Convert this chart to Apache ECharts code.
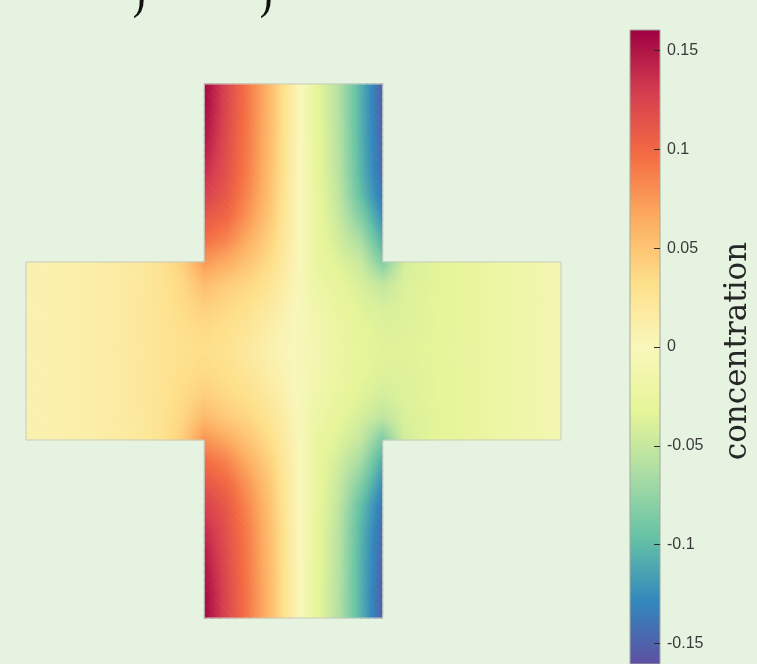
<!DOCTYPE html>
<html>
<head>
<meta charset="utf-8">
<script src="https://cdn.jsdelivr.net/npm/echarts@6/dist/echarts.min.js"></script>
<style>
  html, body { margin: 0; padding: 0; background: #e6f3e1; }
  #chart { width: 757px; height: 664px; }
</style>
</head>
<body>
<div id="chart"></div>
<script>
// Concentration field on a cross-shaped channel, sampled on a node grid with
// 1/8 of the channel width between nodes. Columns 0..24 run left to right,
// rows 0..24 top to bottom; the vertical arms cover columns 8..16.

// Upper arm, rows 0-7, columns 8-16
const armTop = [
  [0.158, 0.123, 0.090, 0.055, 0.012, -0.028, -0.058, -0.105, -0.152],
  [0.156, 0.122, 0.090, 0.055, 0.012, -0.028, -0.058, -0.105, -0.152],
  [0.152, 0.120, 0.089, 0.054, 0.012, -0.028, -0.057, -0.105, -0.150],
  [0.146, 0.118, 0.088, 0.053, 0.011, -0.027, -0.056, -0.104, -0.148],
  [0.137, 0.115, 0.086, 0.052, 0.011, -0.027, -0.055, -0.102, -0.145],
  [0.126, 0.110, 0.082, 0.050, 0.010, -0.026, -0.052, -0.097, -0.138],
  [0.112, 0.100, 0.075, 0.046, 0.010, -0.026, -0.048, -0.082, -0.125],
  [0.096, 0.085, 0.063, 0.040, 0.009, -0.025, -0.043, -0.064, -0.108]
];

// Horizontal channel, rows 8-16, columns 0-24
const band = [
  [0.008, 0.009, 0.011, 0.013, 0.016, 0.020, 0.028, 0.042, 0.075, 0.065, 0.050, 0.033, 0.008, -0.025, -0.036, -0.048, -0.085, -0.041, -0.035, -0.031, -0.027, -0.022, -0.017, -0.013, -0.010],
  [0.008, 0.009, 0.011, 0.013, 0.016, 0.020, 0.027, 0.037, 0.055, 0.045, 0.038, 0.025, 0.005, -0.020, -0.030, -0.040, -0.052, -0.038, -0.035, -0.031, -0.027, -0.022, -0.017, -0.013, -0.010],
  [0.008, 0.009, 0.011, 0.013, 0.016, 0.021, 0.027, 0.035, 0.042, 0.037, 0.030, 0.018, 0.003, -0.015, -0.026, -0.035, -0.041, -0.037, -0.034, -0.031, -0.027, -0.022, -0.017, -0.013, -0.010],
  [0.008, 0.009, 0.011, 0.013, 0.016, 0.021, 0.026, 0.032, 0.036, 0.032, 0.024, 0.012, 0.001, -0.012, -0.023, -0.032, -0.037, -0.036, -0.034, -0.031, -0.027, -0.022, -0.017, -0.013, -0.010],
  [0.008, 0.009, 0.011, 0.013, 0.016, 0.020, 0.025, 0.030, 0.033, 0.028, 0.019, 0.009, 0.000, -0.010, -0.022, -0.031, -0.035, -0.035, -0.033, -0.030, -0.026, -0.022, -0.017, -0.013, -0.010],
  [0.008, 0.009, 0.011, 0.013, 0.016, 0.021, 0.026, 0.032, 0.036, 0.032, 0.024, 0.012, 0.001, -0.012, -0.023, -0.032, -0.037, -0.036, -0.034, -0.031, -0.027, -0.022, -0.017, -0.013, -0.010],
  [0.008, 0.009, 0.011, 0.013, 0.016, 0.021, 0.027, 0.035, 0.043, 0.037, 0.030, 0.018, 0.003, -0.015, -0.026, -0.035, -0.042, -0.037, -0.034, -0.031, -0.027, -0.022, -0.017, -0.013, -0.010],
  [0.008, 0.009, 0.011, 0.013, 0.016, 0.020, 0.027, 0.038, 0.057, 0.046, 0.038, 0.025, 0.005, -0.020, -0.030, -0.041, -0.054, -0.039, -0.035, -0.031, -0.027, -0.022, -0.017, -0.013, -0.010],
  [0.008, 0.009, 0.011, 0.013, 0.016, 0.020, 0.028, 0.043, 0.078, 0.066, 0.050, 0.032, 0.008, -0.024, -0.036, -0.050, -0.087, -0.042, -0.035, -0.031, -0.027, -0.022, -0.017, -0.013, -0.010]
];

// Lower arm, rows 17-24, columns 8-16
const armBottom = [
  [0.098, 0.086, 0.063, 0.040, 0.009, -0.025, -0.043, -0.066, -0.110],
  [0.113, 0.100, 0.075, 0.046, 0.010, -0.026, -0.048, -0.083, -0.126],
  [0.127, 0.110, 0.082, 0.050, 0.010, -0.026, -0.052, -0.097, -0.139],
  [0.138, 0.115, 0.086, 0.052, 0.011, -0.027, -0.055, -0.102, -0.145],
  [0.146, 0.118, 0.088, 0.053, 0.011, -0.027, -0.056, -0.104, -0.148],
  [0.152, 0.120, 0.089, 0.054, 0.012, -0.028, -0.057, -0.105, -0.150],
  [0.156, 0.122, 0.090, 0.055, 0.012, -0.028, -0.058, -0.105, -0.152],
  [0.158, 0.123, 0.090, 0.055, 0.012, -0.028, -0.058, -0.105, -0.152]
];

// Domain outline in node units
const crossOutline = [[8, 0], [16, 0], [16, 8], [24, 8], [24, 16], [16, 16], [16, 24], [8, 24], [8, 16], [0, 16], [0, 8], [8, 8]];

// Colour scale
const colorRange = [-0.1605, 0.1605];
const colorTicks = [0.15, 0.1, 0.05, 0, -0.05, -0.1, -0.15];
const spectral = ['#9e0142', '#d53e4f', '#f46d43', '#fdae61', '#fee08b', '#f9f7bb',
                  '#e6f598', '#abdda4', '#66c2a5', '#3288bd', '#5e4fa2'];   // high -> low

const spectralRGB = spectral.map(h => [1, 3, 5].map(i => parseInt(h.substr(i, 2), 16)));

function cmap(v) {
  let t = (colorRange[1] - v) / (colorRange[1] - colorRange[0]);
  t = Math.max(0, Math.min(1, t)) * (spectralRGB.length - 1);
  const i = Math.min(Math.floor(t), spectralRGB.length - 2);
  const f = t - i;
  const a = spectralRGB[i], b = spectralRGB[i + 1];
  return 'rgb(' + [0, 1, 2].map(k => Math.round(a[k] + (b[k] - a[k]) * f)).join(',') + ')';
}

function nodeValue(r, c) {
  if (r < 8) return armTop[r][c - 8];
  if (r <= 16) return band[r - 8][c];
  return armBottom[r - 17][c - 8];
}

// Cells of the mesh that lie inside the cross
const cells = [];
for (let r = 0; r < 24; r++) {
  for (let c = 0; c < 24; c++) {
    if ((r >= 8 && r < 16) || (c >= 8 && c < 16)) cells.push([c, r]);
  }
}

// Linear-in-value shading of one triangle: a gradient running along the
// direction in which the value changes. The triangle is grown by a fraction
// of a pixel so neighbouring pieces overlap and leave no hairline gaps.
const GROW = 0.45;
function shadedTriangle(P, V) {
  const d1x = P[1][0] - P[0][0], d1y = P[1][1] - P[0][1];
  const d2x = P[2][0] - P[0][0], d2y = P[2][1] - P[0][1];
  const e1 = V[1] - V[0], e2 = V[2] - V[0];
  const det = d1x * d2y - d1y * d2x;
  const vmin = Math.min(V[0], V[1], V[2]);
  const vmax = Math.max(V[0], V[1], V[2]);
  let fill;
  if (vmax - vmin < 1e-6 || Math.abs(det) < 1e-9) {
    fill = cmap((vmin + vmax) / 2);
  } else {
    const ax = (e1 * d2y - e2 * d1y) / det;
    const ay = (d1x * e2 - d2x * e1) / det;
    const g2 = ax * ax + ay * ay;
    const m = V.indexOf(vmin);
    const x0 = P[m][0], y0 = P[m][1];
    const span = vmax - vmin;
    const n = span > 0.01 ? 4 : 2;
    const stops = [];
    for (let k = 0; k <= n; k++) {
      stops.push({ offset: k / n, color: cmap(vmin + span * k / n) });
    }
    fill = {
      type: 'linear', global: true,
      x: x0, y: y0, x2: x0 + ax * span / g2, y2: y0 + ay * span / g2,
      colorStops: stops
    };
  }
  const cx = (P[0][0] + P[1][0] + P[2][0]) / 3;
  const cy = (P[0][1] + P[1][1] + P[2][1]) / 3;
  const grown = P.map(p => {
    const dx = p[0] - cx, dy = p[1] - cy;
    const len = Math.sqrt(dx * dx + dy * dy) || 1;
    return [p[0] + dx / len * GROW * 1.6, p[1] + dy / len * GROW * 1.6];
  });
  return {
    type: 'polygon',
    shape: { points: grown },
    style: { fill: fill }
  };
}

// Each mesh cell is shaded bilinearly from its four corner nodes,
// drawn as a few sub-quads so the shading stays smooth.
const SUB = 3;
function renderCell(params, api) {
  const c = api.value(0), r = api.value(1);
  const p00 = api.coord([c, r]);
  const p11 = api.coord([c + 1, r + 1]);
  const v00 = nodeValue(r, c), v10 = nodeValue(r, c + 1);
  const v01 = nodeValue(r + 1, c), v11 = nodeValue(r + 1, c + 1);
  const pt = (u, w) => [p00[0] + (p11[0] - p00[0]) * u, p00[1] + (p11[1] - p00[1]) * w];
  const val = (u, w) => v00 * (1 - u) * (1 - w) + v10 * u * (1 - w) + v01 * (1 - u) * w + v11 * u * w;
  const children = [];
  for (let j = 0; j < SUB; j++) {
    for (let i = 0; i < SUB; i++) {
      const u0 = i / SUB, u1 = (i + 1) / SUB, w0 = j / SUB, w1 = (j + 1) / SUB;
      const a = pt(u0, w0), b = pt(u1, w0), cc = pt(u1, w1), d = pt(u0, w1);
      const va = val(u0, w0), vb = val(u1, w0), vc = val(u1, w1), vd = val(u0, w1);
      children.push(shadedTriangle([a, b, cc], [va, vb, vc]));
      children.push(shadedTriangle([a, cc, d], [va, vc, vd]));
    }
  }
  return { type: 'group', children: children };
}

const chart = echarts.init(document.getElementById('chart'), null, { renderer: 'canvas' });

chart.setOption({
  backgroundColor: '#e6f3e1',
  animation: false,
  grid: [
    { left: 26, top: 84, width: 535, height: 534 },
    { left: 630, top: 30, width: 30, height: 643 }
  ],
  xAxis: [
    { gridIndex: 0, type: 'value', min: 0, max: 24, show: false },
    { gridIndex: 1, type: 'value', min: 0, max: 1, show: false }
  ],
  yAxis: [
    { gridIndex: 0, type: 'value', min: 0, max: 24, inverse: true, show: false },
    {
      gridIndex: 1, type: 'value', position: 'right', z: 5,
      min: colorRange[0], max: colorRange[1],
      axisLine: { show: false, onZero: false },
      splitLine: { show: false },
      axisTick: {
        show: true, inside: true, length: 6,
        lineStyle: { color: '#2b2b2b', width: 1 },
        customValues: colorTicks
      },
      axisLabel: {
        customValues: colorTicks,
        margin: 7,
        color: '#3a3a3a',
        fontFamily: '"Liberation Sans", Arial, sans-serif',
        fontSize: 16,
        formatter: v => String(v)
      }
    }
  ],
  graphic: [
    {
      type: 'text', x: 738, y: 351, rotation: Math.PI / 2,
      style: {
        text: 'concentration', fill: '#262626',
        font: '31px "DejaVu Serif", serif',
        align: 'center', verticalAlign: 'middle'
      }
    },
    {
      type: 'text', x: 139, y: 22,
      style: { text: ')', fill: '#111', font: '40px "DejaVu Serif", serif', align: 'center', verticalAlign: 'bottom' }
    },
    {
      type: 'text', x: 266, y: 22,
      style: { text: ')', fill: '#111', font: '40px "DejaVu Serif", serif', align: 'center', verticalAlign: 'bottom' }
    }
  ],
  series: [
    {
      type: 'custom', name: 'concentration',
      xAxisIndex: 0, yAxisIndex: 0,
      silent: true,
      renderItem: renderCell,
      data: cells
    },
    {
      type: 'custom', name: 'outline',
      xAxisIndex: 0, yAxisIndex: 0,
      silent: true, z: 3,
      renderItem: (params, api) => ({
        type: 'polygon',
        shape: { points: crossOutline.map(p => api.coord(p)) },
        style: { fill: null, stroke: '#c6cdc2', lineWidth: 1 }
      }),
      data: [[0]]
    },
    {
      type: 'custom', name: 'colorbar',
      xAxisIndex: 1, yAxisIndex: 1,
      silent: true,
      renderItem: (params, api) => {
        const top = api.coord([0, colorRange[1]]);
        const bot = api.coord([1, colorRange[0]]);
        return {
          type: 'rect',
          shape: { x: top[0], y: top[1], width: bot[0] - top[0], height: bot[1] - top[1] },
          style: {
            fill: {
              type: 'linear', x: 0, y: 0, x2: 0, y2: 1,
              colorStops: spectral.map((col, i) => ({ offset: i / (spectral.length - 1), color: col }))
            },
            stroke: '#a3a99c', lineWidth: 1
          }
        };
      },
      data: [[0]]
    }
  ]
});
</script>
</body>
</html>
